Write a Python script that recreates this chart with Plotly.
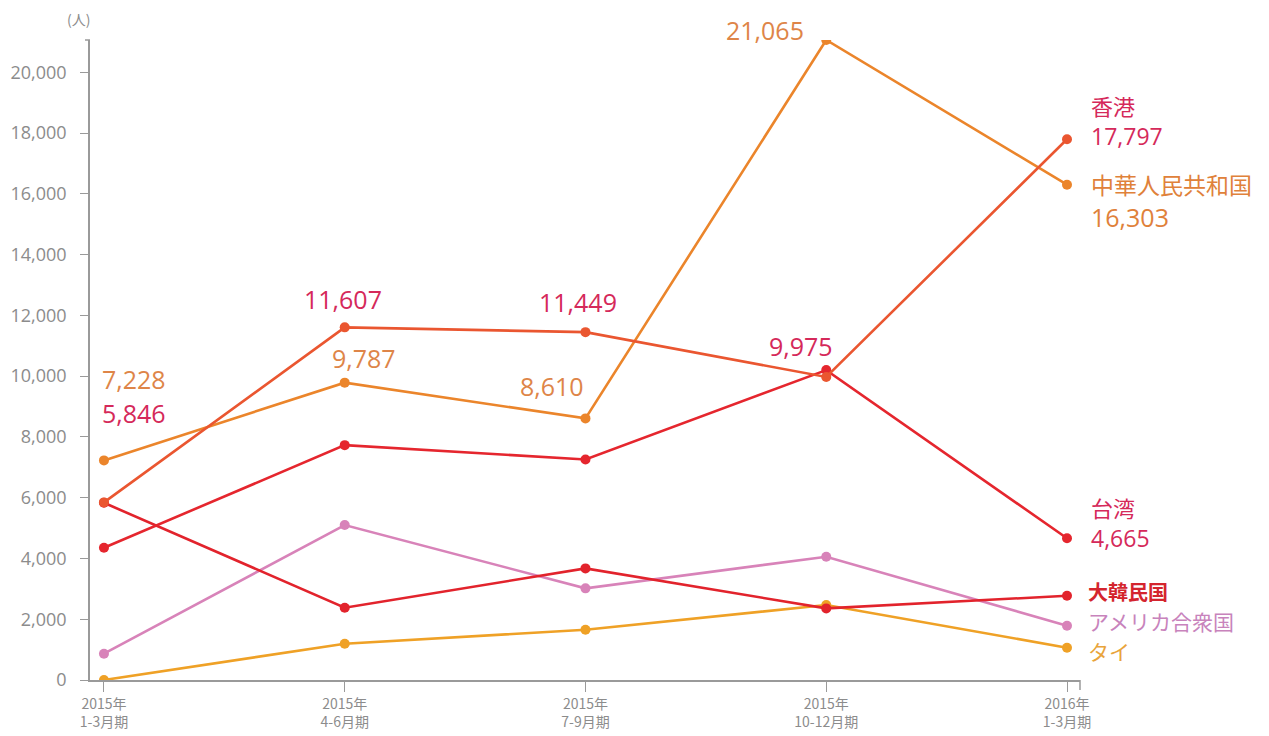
import plotly.graph_objects as go

# Quarterly visitor counts by country/region (persons)
periods = ["2015年<br>1-3月期", "2015年<br>4-6月期", "2015年<br>7-9月期",
           "2015年<br>10-12月期", "2016年<br>1-3月期"]

hong_kong = [5846, 11607, 11449, 9975, 17797]
china = [7228, 9787, 8610, 21065, 16303]
taiwan = [4352, 7730, 7260, 10200, 4665]
korea = [5832, 2380, 3674, 2357, 2773]
usa = [866, 5099, 3016, 4057, 1787]
thailand = [0, 1195, 1656, 2467, 1064]

x_pos = list(range(len(periods)))

NUM_FONT = "Open Sans, Noto Sans CJK JP"
JP_FONT = "Noto Sans CJK JP"

# (name, values, line colour)
series = [
    ("タイ", thailand, "#EFA126"),
    ("アメリカ合衆国", usa, "#D883B9"),
    ("大韓民国", korea, "#E2232C"),
    ("台湾", taiwan, "#E5262E"),
    ("中華人民共和国", china, "#EB852B"),
    ("香港", hong_kong, "#EA5630"),
]

fig = go.Figure()
for name, vals, lc in series:
    fig.add_trace(go.Scatter(
        x=x_pos, y=vals, mode="lines+markers", name=name,
        line=dict(color=lc, width=2.6),
        marker=dict(color=lc, size=10),
        hoverinfo="skip", showlegend=False,
    ))

ann = []


def value_label(i, vals, color, dx, dy, anchor="center"):
    ann.append(dict(
        x=i, y=vals[i], xref="x", yref="y", text=f"{vals[i]:,}",
        showarrow=False, xanchor=anchor, yanchor="middle",
        xshift=dx, yshift=dy,
        font=dict(family=NUM_FONT, size=25, color=color),
    ))


hk_c = "#D5295A"
cn_c = "#DE8548"

# values along the Hong Kong and China lines
value_label(0, china, cn_c, -4, 81, "left")
value_label(0, hong_kong, hk_c, -4, 89, "left")
value_label(1, hong_kong, hk_c, -2, 28)
value_label(1, china, cn_c, 19, 25)
value_label(2, hong_kong, hk_c, -7, 30)
value_label(2, china, cn_c, -33, 32)
value_label(3, hong_kong, hk_c, -25, 31)
value_label(3, china, cn_c, -20, 10, "right")

# end-of-line labels: name on the first line, latest value below it
last = len(periods) - 1


def end_label(name, vals, color, dy, base_size, name_size):
    text = (f"<span style='font-family:{JP_FONT};font-size:{name_size}px'>"
            f"{name}</span><br>{vals[last]:,}")
    ann.append(dict(
        x=last, y=vals[last], xref="x", yref="y", text=text, align="left",
        showarrow=False, xanchor="left", yanchor="middle",
        xshift=22, yshift=dy,
        font=dict(family=NUM_FONT, size=base_size, color=color),
    ))


end_label("香港", hong_kong, hk_c, 19, 23, 22)
end_label("中華人民共和国", china, "#E0813A", -16, 25, 23)
end_label("台湾", taiwan, hk_c, 16, 23, 22)

# the three lower series share one stacked label block
low_text = (
    f"<b><span style='color:#D4252E;font-size:20px'>{series[2][0]}</span></b><br>"
    f"<span style='color:#C883BC;font-size:21px'>{series[1][0]}</span><br>"
    f"<span style='color:#E9A43A;font-size:21px'>{series[0][0]}</span>"
)
ann.append(dict(
    x=last, y=usa[last], xref="x", yref="y", text=low_text, align="left",
    showarrow=False, xanchor="left", yanchor="middle",
    xshift=19, yshift=4,
    font=dict(family=JP_FONT, size=23, color="#C883BC"),
))

# unit label above the y axis
ann.append(dict(
    x=0, y=1, xref="paper", yref="paper", text="(人)", showarrow=False,
    xanchor="center", yanchor="middle", xshift=-12, yshift=21,
    font=dict(family=JP_FONT, size=14, color="#8C8C8C"),
))

axis_grey = "#9A9A9A"
y_top = max(max(s[1]) for s in series)

fig.update_layout(
    width=1269, height=736,
    margin=dict(l=90, r=189, t=40, b=56),
    paper_bgcolor="white", plot_bgcolor="white",
    annotations=ann,
    xaxis=dict(
        tickmode="array", tickvals=x_pos, ticktext=periods,
        range=[-0.058, last + 0.054], automargin=False,
        showgrid=False, zeroline=False,
        showline=True, linecolor=axis_grey, linewidth=1.5,
        ticks="outside", ticklen=10, tickcolor=axis_grey, tickwidth=1,
        tickfont=dict(family=JP_FONT, size=14, color="#8C8C8C"),
    ),
    yaxis=dict(
        range=[0, y_top], tickvals=list(range(0, 20001, 2000)),
        tickformat=",d", automargin=False,
        showgrid=False, zeroline=False,
        showline=True, linecolor=axis_grey, linewidth=1.5,
        ticks="outside", ticklen=8, tickcolor=axis_grey, tickwidth=1,
        ticklabelstandoff=10,
        tickfont=dict(family="Open Sans", size=18, color="#8C8C8C"),
    ),
    shapes=[
        # small caps at the ends of the axis lines
        dict(type="line", xref="paper", yref="paper",
             xsizemode="pixel", xanchor=0, x0=-5, x1=0, y0=1, y1=1,
             line=dict(color=axis_grey, width=1.5)),
        dict(type="line", xref="paper", yref="paper",
             ysizemode="pixel", yanchor=0, y0=0, y1=-10, x0=1, x1=1,
             line=dict(color=axis_grey, width=1.5)),
    ],
)

fig.write_html("out.html")
